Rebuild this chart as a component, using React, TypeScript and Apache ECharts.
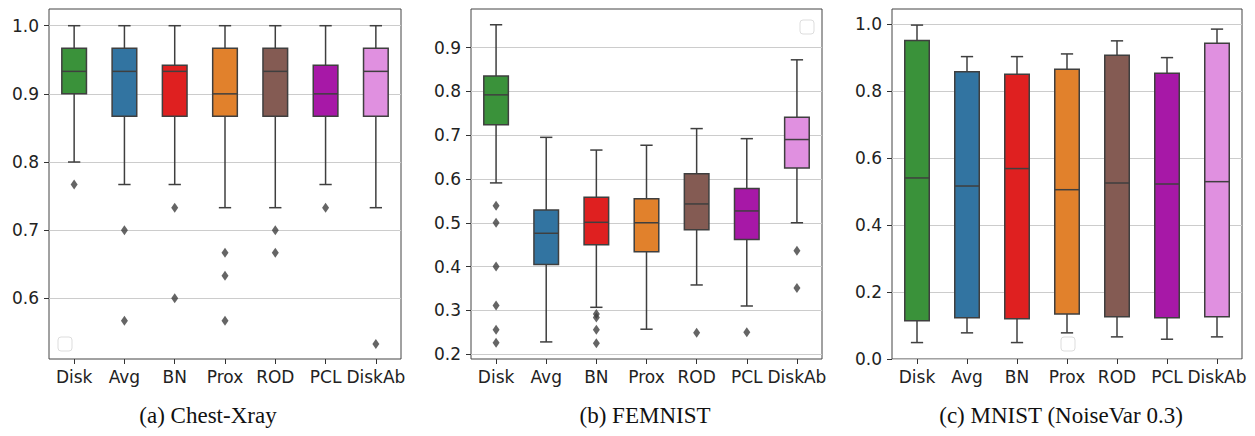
import React, { useEffect, useRef } from "react";
import * as echarts from "echarts";

const categories = ["Disk", "Avg", "BN", "Prox", "ROD", "PCL", "DiskAb"];
const boxColors = ["#3a923a", "#3274a1", "#df2020", "#e1812c", "#845b53", "#a718a7", "#e090e0"];

// [min whisker, Q1, median, Q3, max whisker]
const chestBoxes = [
  [0.8, 0.9, 0.933, 0.967, 1.0],
  [0.767, 0.867, 0.933, 0.967, 1.0],
  [0.767, 0.867, 0.933, 0.942, 1.0],
  [0.733, 0.867, 0.9, 0.967, 1.0],
  [0.733, 0.867, 0.933, 0.967, 1.0],
  [0.767, 0.867, 0.9, 0.942, 1.0],
  [0.733, 0.867, 0.933, 0.967, 1.0],
];
const chestOutliers = [
  ["Disk", 0.767],
  ["Avg", 0.7], ["Avg", 0.567],
  ["BN", 0.733], ["BN", 0.6],
  ["Prox", 0.667], ["Prox", 0.633], ["Prox", 0.567],
  ["ROD", 0.7], ["ROD", 0.667],
  ["PCL", 0.733],
  ["DiskAb", 0.533],
];
const chestTicks = [0.6, 0.7, 0.8, 0.9, 1.0];

const femnistBoxes = [
  [0.591, 0.724, 0.792, 0.835, 0.952],
  [0.228, 0.405, 0.476, 0.529, 0.695],
  [0.307, 0.45, 0.501, 0.558, 0.666],
  [0.257, 0.434, 0.5, 0.555, 0.677],
  [0.358, 0.484, 0.543, 0.612, 0.715],
  [0.31, 0.462, 0.527, 0.578, 0.692],
  [0.5, 0.625, 0.69, 0.741, 0.872],
];
const femnistOutliers = [
  ["Disk", 0.539], ["Disk", 0.5], ["Disk", 0.4], ["Disk", 0.311], ["Disk", 0.256], ["Disk", 0.226],
  ["BN", 0.292], ["BN", 0.284], ["BN", 0.256], ["BN", 0.225],
  ["ROD", 0.249],
  ["PCL", 0.25],
  ["DiskAb", 0.436], ["DiskAb", 0.351],
];
const femnistTicks = [0.2, 0.3, 0.4, 0.5, 0.6, 0.7, 0.8, 0.9];

const mnistBoxes = [
  [0.049, 0.114, 0.54, 0.95, 0.996],
  [0.078, 0.123, 0.516, 0.857, 0.902],
  [0.049, 0.12, 0.568, 0.849, 0.902],
  [0.078, 0.134, 0.505, 0.864, 0.91],
  [0.066, 0.126, 0.525, 0.906, 0.949],
  [0.059, 0.123, 0.522, 0.852, 0.899],
  [0.066, 0.126, 0.529, 0.942, 0.984],
];
const mnistOutliers: [string, number][] = [];
const mnistTicks = [0, 0.2, 0.4, 0.6, 0.8, 1.0];

const captions = ["(a) Chest-Xray", "(b) FEMNIST", "(c) MNIST (NoiseVar 0.3)"];

const panels = [
  { boxes: chestBoxes, outliers: chestOutliers, ticks: chestTicks, min: 0.511, max: 1.0245, left: 49, width: 352 },
  { boxes: femnistBoxes, outliers: femnistOutliers, ticks: femnistTicks, min: 0.189, max: 0.988, left: 471, width: 351 },
  { boxes: mnistBoxes, outliers: mnistOutliers, ticks: mnistTicks, min: 0, max: 1.044, left: 892, width: 350 },
];

const EDGE = "#3f3f3f";

export default function App() {
  const ref = useRef<HTMLDivElement>(null);
  useEffect(() => {
    if (!ref.current) return;
    const chart = echarts.init(ref.current, null, { renderer: "svg" });
    const grids: any[] = [];
    const xAxes: any[] = [];
    const yAxes: any[] = [];
    const series: any[] = [];
    panels.forEach((p, i) => {
      grids.push({
        left: p.left, top: 9, width: p.width, height: 350,
        show: true, borderColor: "#444", borderWidth: 1, backgroundColor: "transparent",
      });
      xAxes.push({
        type: "category", gridIndex: i, data: categories,
        axisLine: { show: false },
        axisTick: { show: true, alignWithLabel: true, length: 5, lineStyle: { color: "#333" } },
        axisLabel: { fontSize: 17, color: "#222", fontFamily: "DejaVu Sans", margin: 9, interval: 0 },
        splitLine: { show: false },
      });
      yAxes.push({
        type: "value", gridIndex: i, min: p.min, max: p.max,
        axisLine: { show: false },
        axisTick: { show: true, length: 5, lineStyle: { color: "#333" }, customValues: p.ticks },
        axisLabel: {
          fontSize: 17, color: "#222", fontFamily: "DejaVu Sans", margin: 10,
          customValues: p.ticks,
          formatter: (v: number) => v.toFixed(1),
        },
        splitLine: { show: true, lineStyle: { color: "#cccccc", width: 1 } },
      });
      series.push({
        type: "custom", xAxisIndex: i, yAxisIndex: i,
        data: p.boxes.map((b, j) => [j, ...b]),
        renderItem: (params: any, api: any) => {
          const x = api.value(0);
          const lo = api.coord([x, api.value(1)]);
          const q1 = api.coord([x, api.value(2)]);
          const md = api.coord([x, api.value(3)]);
          const q3 = api.coord([x, api.value(4)]);
          const hi = api.coord([x, api.value(5)]);
          const band = api.size([1, 0])[0];
          const bw = band * 0.49;
          const cw = bw * 0.5;
          const cx = lo[0];
          const ls = { stroke: EDGE, lineWidth: 1.5 };
          return {
            type: "group",
            children: [
              { type: "line", shape: { x1: cx, y1: hi[1], x2: cx, y2: q3[1] }, style: ls },
              { type: "line", shape: { x1: cx, y1: q1[1], x2: cx, y2: lo[1] }, style: ls },
              { type: "line", shape: { x1: cx - cw / 2, y1: hi[1], x2: cx + cw / 2, y2: hi[1] }, style: ls },
              { type: "line", shape: { x1: cx - cw / 2, y1: lo[1], x2: cx + cw / 2, y2: lo[1] }, style: ls },
              {
                type: "rect",
                shape: { x: cx - bw / 2, y: q3[1], width: bw, height: q1[1] - q3[1] },
                style: { fill: boxColors[params.dataIndex], stroke: EDGE, lineWidth: 1.5 },
              },
              { type: "line", shape: { x1: cx - bw / 2, y1: md[1], x2: cx + bw / 2, y2: md[1] }, style: ls },
            ],
          };
        },
        z: 3,
      });
      series.push({
        type: "scatter", xAxisIndex: i, yAxisIndex: i,
        data: p.outliers,
        symbol: "diamond", symbolSize: [7, 10],
        itemStyle: { color: EDGE },
        z: 4,
      });
    });

    const legendBoxes = [
      { x: 58, y: 337 },
      { x: 800, y: 20 },
      { x: 1061, y: 337 },
    ];
    const graphic: any[] = legendBoxes.map((b) => ({
      type: "rect",
      shape: { x: b.x, y: b.y, width: 14, height: 14, r: 3 },
      style: { fill: "#fff", stroke: "#dddddd", lineWidth: 1 },
      z: 10,
    }));
    const capX = [208, 645, 1061];
    captions.forEach((c, i) => {
      graphic.push({
        type: "text",
        x: capX[i], y: 415,
        style: {
          text: c, fontFamily: "Liberation Serif", fontSize: 23, fill: "#111",
          textAlign: "center", textVerticalAlign: "middle",
        },
      });
    });

    chart.setOption({
      animation: false,
      backgroundColor: "#fff",
      grid: grids,
      xAxis: xAxes,
      yAxis: yAxes,
      series,
      graphic,
    });
    return () => chart.dispose();
  }, []);
  return <div ref={ref} style={{ width: 1255, height: 436, position: "absolute", left: 0, top: 0 }} />;
}
